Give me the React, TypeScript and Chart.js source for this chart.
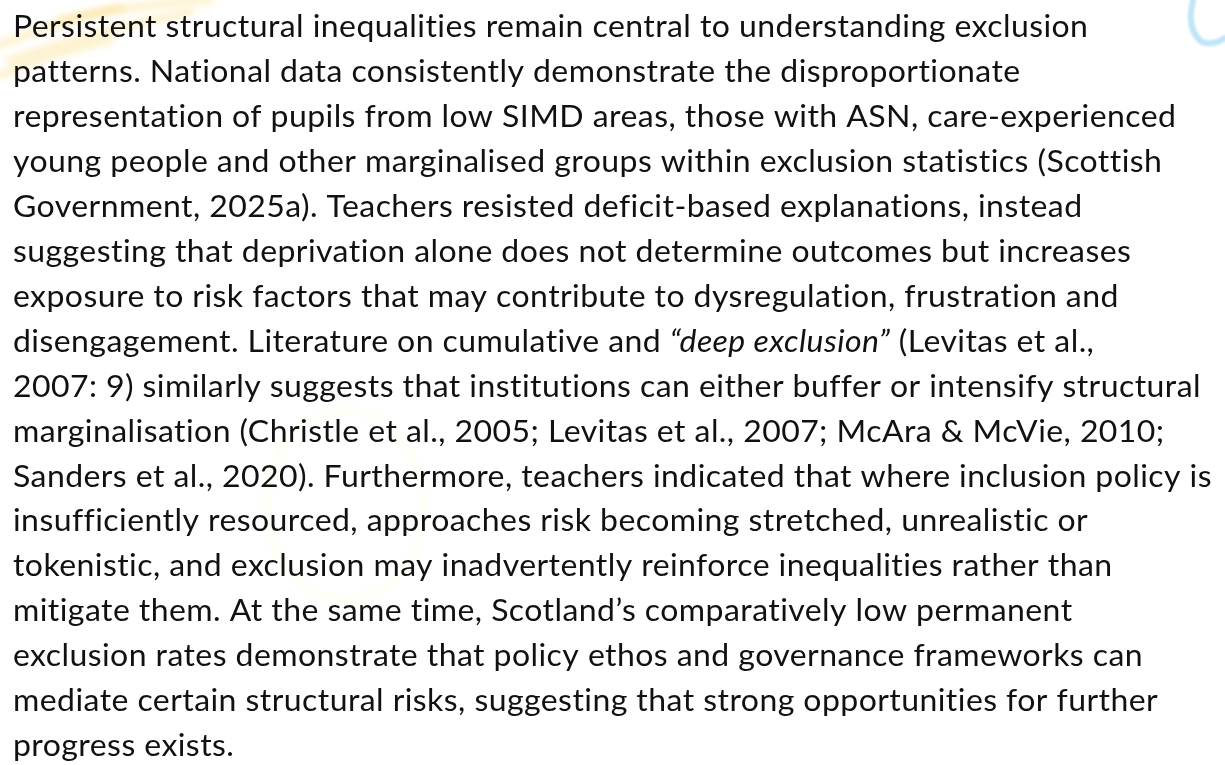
import React, { useEffect, useRef } from "react";
import { Chart, registerables } from "chart.js";

Chart.register(...registerables);

// Paragraph lines as they wrap in the reference
const paragraphLines: string[] = [
  "Persistent structural inequalities remain central to understanding exclusion",
  "patterns. National data consistently demonstrate the disproportionate",
  "representation of pupils from low SIMD areas, those with ASN, care-experienced",
  "young people and other marginalised groups within exclusion statistics (Scottish",
  "Government, 2025a). Teachers resisted deficit-based explanations, instead",
  "suggesting that deprivation alone does not determine outcomes but increases",
  "exposure to risk factors that may contribute to dysregulation, frustration and",
  "disengagement. Literature on cumulative and “deep exclusion” (Levitas et al.,",
  "2007: 9) similarly suggests that institutions can either buffer or intensify structural",
  "marginalisation (Christle et al., 2005; Levitas et al., 2007; McAra & McVie, 2010;",
  "Sanders et al., 2020). Furthermore, teachers indicated that where inclusion policy is",
  "insufficiently resourced, approaches risk becoming stretched, unrealistic or",
  "tokenistic, and exclusion may inadvertently reinforce inequalities rather than",
  "mitigate them. At the same time, Scotland’s comparatively low permanent",
  "exclusion rates demonstrate that policy ethos and governance frameworks can",
  "mediate certain structural risks, suggesting that strong opportunities for further",
  "progress exists.",
];

const italicPhrases: string[] = ["“deep exclusion”"];

const FONT_FAMILY = "Lato, 'Noto Sans', sans-serif";
const FONT_SIZE = 30;
const TEXT_COLOR = "#111111";
const LEFT_X = 13;
const FIRST_BASELINE = 37;
const LINE_STEP = 44.95;
const REF_LINE_INDEX = 10;
const REF_LINE_WIDTH = 1199;
const LETTER_SPACING = "0.4px";

type Seg = { text: string; italic: boolean };

function splitSegments(line: string): Seg[] {
  let segs: Seg[] = [{ text: line, italic: false }];
  italicPhrases.forEach((ph) => {
    const out: Seg[] = [];
    segs.forEach((s) => {
      if (s.italic || s.text.indexOf(ph) < 0) {
        out.push(s);
        return;
      }
      const parts = s.text.split(ph);
      parts.forEach((p, i) => {
        if (p) out.push({ text: p, italic: false });
        if (i < parts.length - 1) out.push({ text: ph, italic: true });
      });
    });
    segs = out;
  });
  return segs;
}

function setFont(ctx: CanvasRenderingContext2D, italic: boolean) {
  ctx.font = `${italic ? "italic " : ""}400 ${FONT_SIZE}px ${FONT_FAMILY}`;
  try {
    (ctx as any).letterSpacing = LETTER_SPACING;
  } catch (e) {}
}

function lineWidth(ctx: CanvasRenderingContext2D, segs: Seg[]) {
  let w = 0;
  segs.forEach((s) => {
    setFont(ctx, s.italic);
    w += ctx.measureText(s.text).width;
  });
  return w;
}

const decorPlugin = {
  id: "decor",
  beforeDraw(chart: any) {
    const ctx: CanvasRenderingContext2D = chart.ctx;
    ctx.save();
    ctx.fillStyle = "#ffffff";
    ctx.fillRect(0, 0, chart.width, chart.height);
    ctx.filter = "blur(3px)";
    ctx.lineCap = "round";
    // faint yellow brush strokes, top-left
    ctx.strokeStyle = "rgba(248, 214, 110, 0.3)";
    ctx.lineWidth = 9;
    const strokes = [
      [0, 45, 120, 8],
      [10, 60, 190, 12],
      [0, 75, 110, 40],
      [60, 20, 210, 0],
    ];
    strokes.forEach(([a, b, c, d]) => {
      ctx.beginPath();
      ctx.moveTo(a, b);
      ctx.quadraticCurveTo((a + c) / 2, (b + d) / 2 - 6, c, d);
      ctx.stroke();
    });
    // very faint yellow ring in the middle
    ctx.strokeStyle = "rgba(255, 245, 185, 0.18)";
    ctx.lineWidth = 6;
    ctx.beginPath();
    ctx.ellipse(345, 505, 78, 95, 0, 0, Math.PI * 2);
    ctx.stroke();
    // light blue hook, top-right
    ctx.filter = "blur(1.2px)";
    ctx.strokeStyle = "rgba(165, 218, 244, 0.7)";
    ctx.lineWidth = 6;
    ctx.beginPath();
    ctx.moveTo(1193, 0);
    ctx.quadraticCurveTo(1186, 30, 1202, 42);
    ctx.quadraticCurveTo(1213, 46, 1225, 38);
    ctx.stroke();
    ctx.restore();
  },
};

const paragraphPlugin = {
  id: "paragraph",
  afterDraw(chart: any) {
    const ctx: CanvasRenderingContext2D = chart.ctx;
    ctx.save();
    ctx.fillStyle = TEXT_COLOR;
    ctx.textBaseline = "alphabetic";
    ctx.textAlign = "left";
    const allSegs = paragraphLines.map(splitSegments);
    const refW = lineWidth(ctx, allSegs[REF_LINE_INDEX]);
    const sx = REF_LINE_WIDTH / refW;
    allSegs.forEach((segs, i) => {
      const y = FIRST_BASELINE + i * LINE_STEP;
      ctx.save();
      ctx.translate(LEFT_X, y);
      ctx.scale(sx, 1);
      let x = 0;
      segs.forEach((s) => {
        setFont(ctx, s.italic);
        ctx.fillText(s.text, x, 0);
        x += ctx.measureText(s.text).width;
      });
      ctx.restore();
    });
    ctx.restore();
  },
};

export default function App() {
  const ref = useRef<HTMLCanvasElement | null>(null);
  useEffect(() => {
    if (!ref.current) return;
    const chart = new Chart(ref.current, {
      type: "scatter",
      data: { datasets: [] },
      options: {
        animation: false,
        responsive: true,
        maintainAspectRatio: false,
        layout: { padding: 0 },
        scales: { x: { display: false }, y: { display: false } },
        plugins: { legend: { display: false }, tooltip: { enabled: false }, title: { display: false } },
      },
      plugins: [decorPlugin, paragraphPlugin],
    });
    let cancelled = false;
    (document as any).fonts?.load?.(`400 ${FONT_SIZE}px Lato`).then(() => {
      if (!cancelled) chart.update();
    });
    (document as any).fonts?.load?.(`italic 400 ${FONT_SIZE}px Lato`).then(() => {
      if (!cancelled) chart.update();
    });
    return () => {
      cancelled = true;
      chart.destroy();
    };
  }, []);
  return (
    <div style={{ position: "fixed", left: 0, top: 0, width: 1225, height: 765, background: "#fff" }}>
      <canvas ref={ref} />
    </div>
  );
}
